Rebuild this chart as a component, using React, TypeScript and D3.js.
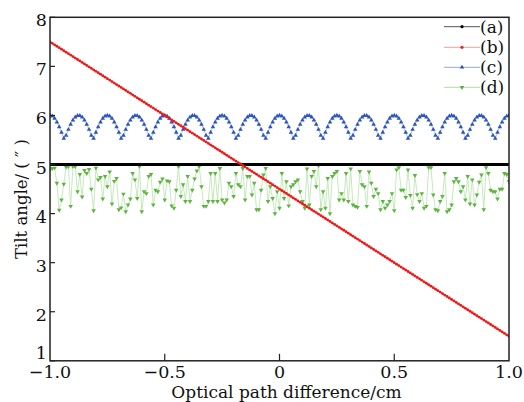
import React from "react";
import * as d3 from "d3";

const xTicks = [-1.0, -0.5, 0, 0.5, 1.0];
const xTickLabels = ["\u22121.0", "\u22120.5", "0", "0.5", "1.0"];
const yTicks = [1, 2, 3, 4, 5, 6, 7, 8];
const legendLabels = ["(a)", "(b)", "(c)", "(d)"];

// sample positions: -1 .. 1, 201 samples
const xStart = -1;
const xStep = 0.01;

const seriesA = [
  5,5,5,5,5,5,5,5,5,5,5,5,5,5,5,5,5,5,5,5,5,5,5,5,5,
  5,5,5,5,5,5,5,5,5,5,5,5,5,5,5,5,5,5,5,5,5,5,5,5,5,
  5,5,5,5,5,5,5,5,5,5,5,5,5,5,5,5,5,5,5,5,5,5,5,5,5,
  5,5,5,5,5,5,5,5,5,5,5,5,5,5,5,5,5,5,5,5,5,5,5,5,5,
  5,5,5,5,5,5,5,5,5,5,5,5,5,5,5,5,5,5,5,5,5,5,5,5,5,
  5,5,5,5,5,5,5,5,5,5,5,5,5,5,5,5,5,5,5,5,5,5,5,5,5,
  5,5,5,5,5,5,5,5,5,5,5,5,5,5,5,5,5,5,5,5,5,5,5,5,5,
  5,5,5,5,5,5,5,5,5,5,5,5,5,5,5,5,5,5,5,5,5,5,5,5,5,
  5,
];

const seriesB = [
  7.50,7.47,7.44,7.41,7.38,7.35,7.32,7.29,7.26,7.23,
  7.20,7.17,7.14,7.11,7.08,7.05,7.02,6.99,6.96,6.93,
  6.90,6.87,6.84,6.81,6.78,6.75,6.72,6.69,6.66,6.63,
  6.60,6.57,6.54,6.51,6.48,6.45,6.42,6.39,6.36,6.33,
  6.30,6.27,6.24,6.21,6.18,6.15,6.12,6.09,6.06,6.03,
  6.00,5.97,5.94,5.91,5.88,5.85,5.82,5.79,5.76,5.73,
  5.70,5.67,5.64,5.61,5.58,5.55,5.52,5.49,5.46,5.43,
  5.40,5.37,5.34,5.31,5.28,5.25,5.22,5.19,5.16,5.13,
  5.10,5.07,5.04,5.01,4.98,4.95,4.92,4.89,4.86,4.83,
  4.80,4.77,4.74,4.71,4.68,4.65,4.62,4.59,4.56,4.53,
  4.50,4.47,4.44,4.41,4.38,4.35,4.32,4.29,4.26,4.23,
  4.20,4.17,4.14,4.11,4.08,4.05,4.02,3.99,3.96,3.93,
  3.90,3.87,3.84,3.81,3.78,3.75,3.72,3.69,3.66,3.63,
  3.60,3.57,3.54,3.51,3.48,3.45,3.42,3.39,3.36,3.33,
  3.30,3.27,3.24,3.21,3.18,3.15,3.12,3.09,3.06,3.03,
  3.00,2.97,2.94,2.91,2.88,2.85,2.82,2.79,2.76,2.73,
  2.70,2.67,2.64,2.61,2.58,2.55,2.52,2.49,2.46,2.43,
  2.40,2.37,2.34,2.31,2.28,2.25,2.22,2.19,2.16,2.13,
  2.10,2.07,2.04,2.01,1.98,1.95,1.92,1.89,1.86,1.83,
  1.80,1.77,1.74,1.71,1.68,1.65,1.62,1.59,1.56,1.53,
  1.50,
];

const seriesC = [
  6.000,5.984,5.938,5.865,5.768,5.655,5.531,5.594,5.713,5.819,5.905,5.965,5.996,5.996,5.965,5.905,5.819,5.713,5.594,5.531,5.655,5.768,5.865,5.938,5.984,
  6.000,5.984,5.938,5.865,5.768,5.655,5.531,5.594,5.713,5.819,5.905,5.965,5.996,5.996,5.965,5.905,5.819,5.713,5.594,5.531,5.655,5.768,5.865,5.938,5.984,
  6.000,5.984,5.938,5.865,5.768,5.655,5.531,5.594,5.713,5.819,5.905,5.965,5.996,5.996,5.965,5.905,5.819,5.713,5.594,5.531,5.655,5.768,5.865,5.938,5.984,
  6.000,5.984,5.938,5.865,5.768,5.655,5.531,5.594,5.713,5.819,5.905,5.965,5.996,5.996,5.965,5.905,5.819,5.713,5.594,5.531,5.655,5.768,5.865,5.938,5.984,
  6.000,5.984,5.938,5.865,5.768,5.655,5.531,5.594,5.713,5.819,5.905,5.965,5.996,5.996,5.965,5.905,5.819,5.713,5.594,5.531,5.655,5.768,5.865,5.938,5.984,
  6.000,5.984,5.938,5.865,5.768,5.655,5.531,5.594,5.713,5.819,5.905,5.965,5.996,5.996,5.965,5.905,5.819,5.713,5.594,5.531,5.655,5.768,5.865,5.938,5.984,
  6.000,5.984,5.938,5.865,5.768,5.655,5.531,5.594,5.713,5.819,5.905,5.965,5.996,5.996,5.965,5.905,5.819,5.713,5.594,5.531,5.655,5.768,5.865,5.938,5.984,
  6.000,5.984,5.938,5.865,5.768,5.655,5.531,5.594,5.713,5.819,5.905,5.965,5.996,5.996,5.965,5.905,5.819,5.713,5.594,5.531,5.655,5.768,5.865,5.938,5.984,
  6.000,
];

const seriesD = [
  4.89,4.92,4.93,4.62,4.07,4.28,4.60,4.95,4.96,4.15,4.96,4.96,4.45,4.80,4.34,4.88,4.82,4.90,4.50,4.06,4.93,4.69,4.74,4.30,4.76,4.55,4.85,4.20,4.66,4.72,4.08,4.12,4.40,4.04,4.18,4.30,
  4.82,4.69,4.31,4.96,4.04,4.45,4.41,4.76,4.80,4.18,4.48,4.45,4.64,4.71,4.28,4.67,4.65,4.16,4.11,4.48,4.96,4.35,4.59,4.25,4.76,4.25,4.48,4.71,4.87,4.96,4.55,4.15,
  4.15,4.25,4.82,4.25,4.82,4.25,4.92,4.28,4.22,4.28,4.62,4.55,4.35,4.82,4.59,4.55,4.92,4.28,4.76,4.76,4.38,4.62,4.08,4.08,4.48,4.79,4.92,4.25,4.55,4.31,4.00,4.45,4.11,
  4.82,4.31,4.65,4.16,4.55,4.59,4.65,4.69,4.45,4.25,4.11,4.91,4.18,4.76,4.86,4.55,4.98,4.08,4.45,4.11,4.72,4.00,4.76,4.82,4.86,4.28,4.41,4.28,4.82,4.25,4.91,4.18,4.15,
  4.13,4.86,4.59,4.55,4.15,4.85,4.62,4.35,4.50,4.41,4.08,4.25,4.11,4.18,4.25,4.41,4.06,4.89,4.94,4.48,4.48,4.33,4.89,4.37,4.11,4.78,4.39,4.25,4.41,4.11,4.15,4.94,4.94,4.38,4.08,
  4.06,4.25,4.35,4.82,4.04,4.08,4.18,4.65,4.72,4.65,4.45,4.55,4.28,4.76,4.20,4.69,4.18,4.38,4.64,4.79,4.08,4.94,4.82,4.48,4.45,4.45,4.30,4.50,4.50,4.82,4.80,4.65,
];

const W = 524;
const H = 402;
const left = 50;
const right = 509;
const top = 17.3;
const bottom = 360.8;
const FONT = "'DejaVu Serif', 'Liberation Serif', serif";

export default function App() {
  const x = d3.scaleLinear().domain([-1, 1]).range([left, right]);
  const y = d3.scaleLinear().domain([1, 8]).range([bottom, top]);

  const toPts = (vals: number[]) => vals.map((v, i) => [xStart + i * xStep, v] as [number, number]);
  const line = d3
    .line<[number, number]>()
    .x((d) => x(d[0]))
    .y((d) => y(d[1]));

  const ptsA = toPts(seriesA);
  const ptsB = toPts(seriesB);
  const ptsC = toPts(seriesC);
  const ptsD = toPts(seriesD);

  const tri = d3.symbol().type(d3.symbolTriangle).size(9)() as string;

  const legendY = [26.7, 47.3, 67.3, 87.3];
  const legendLine = ["#555", "#f4a090", "#90a8dc", "#b0dca0"];
  const legendMark = ["#000", "#ee2222", "#2a50b8", "#58b040"];

  return (
    <svg width={W} height={H} style={{ position: "absolute", left: 0, top: 0, background: "#fff" }}>
      <rect x={0} y={0} width={W} height={H} fill="#fff" />
      <defs>
        <clipPath id="plot">
          <rect x={left} y={top} width={right - left} height={bottom - top} />
        </clipPath>
      </defs>
      <g clipPath="url(#plot)">
        {/* (d) green */}
        <path d={line(ptsD) || ""} fill="none" stroke="#c0e6b4" strokeWidth={0.9} />
        {ptsD.map((p, i) => (
          <path key={"d" + i} d={tri} transform={`translate(${x(p[0])},${y(p[1])}) rotate(180)`} fill="#5cb53e" />
        ))}
        {/* (c) blue */}
        <path d={line(ptsC) || ""} fill="none" stroke="#a8bbe6" strokeWidth={0.9} />
        {ptsC.map((p, i) => (
          <path key={"c" + i} d={tri} transform={`translate(${x(p[0])},${y(p[1])})`} fill="#2d55bd" />
        ))}
        {/* (a) black */}
        <path d={line(ptsA) || ""} fill="none" stroke="#000" strokeWidth={2.8} />
        {/* (b) red */}
        <path d={line(ptsB) || ""} fill="none" stroke="#ff3030" strokeWidth={1.2} />
        {ptsB.map((p, i) => (
          <circle key={"b" + i} cx={x(p[0])} cy={y(p[1])} r={1.4} fill="#f01818" />
        ))}
      </g>

      {/* frame */}
      <rect x={left} y={top} width={right - left} height={bottom - top} fill="none" stroke="#222" strokeWidth={1.5} />

      {/* y ticks */}
      {yTicks.map((t) => (
        <g key={"yt" + t}>
          <line x1={left} x2={left + 5} y1={y(t)} y2={y(t)} stroke="#222" strokeWidth={1.2} />
          <text
            x={left - 3}
            y={t === 1 ? y(t) - 1.5 : y(t) + 9}
            textAnchor="end"
            fontFamily={FONT}
            fontSize={17.5}
            fill="#111"
          >
            {t}
          </text>
        </g>
      ))}

      {/* x ticks */}
      {xTicks.map((t, i) => (
        <g key={"xt" + i}>
          {i > 0 && i < xTicks.length - 1 && (
            <line x1={x(t)} x2={x(t)} y1={bottom} y2={bottom - 7} stroke="#222" strokeWidth={1.2} />
          )}
          <text x={x(t)} y={bottom + 17} textAnchor="middle" fontFamily={FONT} fontSize={17.5} fill="#111">
            {xTickLabels[i]}
          </text>
        </g>
      ))}

      {/* axis titles */}
      <text x={(left + right) / 2 + 7} y={397.5} textAnchor="middle" fontFamily={FONT} fontSize={17} fill="#111">
        Optical path difference/cm
      </text>
      <text
        transform={`translate(27,${(top + bottom) / 2 + 10}) rotate(-90)`}
        textAnchor="middle"
        fontFamily={FONT}
        fontSize={16.5}
        fill="#111"
      >
        {"Tilt angle/ ( \u2033 )"}
      </text>

      {/* legend */}
      {legendLabels.map((lab, i) => (
        <g key={"lg" + i}>
          <line x1={444} x2={480} y1={legendY[i]} y2={legendY[i]} stroke={legendLine[i]} strokeWidth={1} />
          {i < 2 && <circle cx={462} cy={legendY[i]} r={1.6} fill={legendMark[i]} />}
          {i === 2 && <path d={tri} transform={`translate(462,${legendY[i]})`} fill={legendMark[i]} />}
          {i === 3 && <path d={tri} transform={`translate(462,${legendY[i]}) rotate(180)`} fill={legendMark[i]} />}
          <text x={480} y={legendY[i] + 6} fontFamily={FONT} fontSize={17} fill="#111">
            {lab}
          </text>
        </g>
      ))}
    </svg>
  );
}
